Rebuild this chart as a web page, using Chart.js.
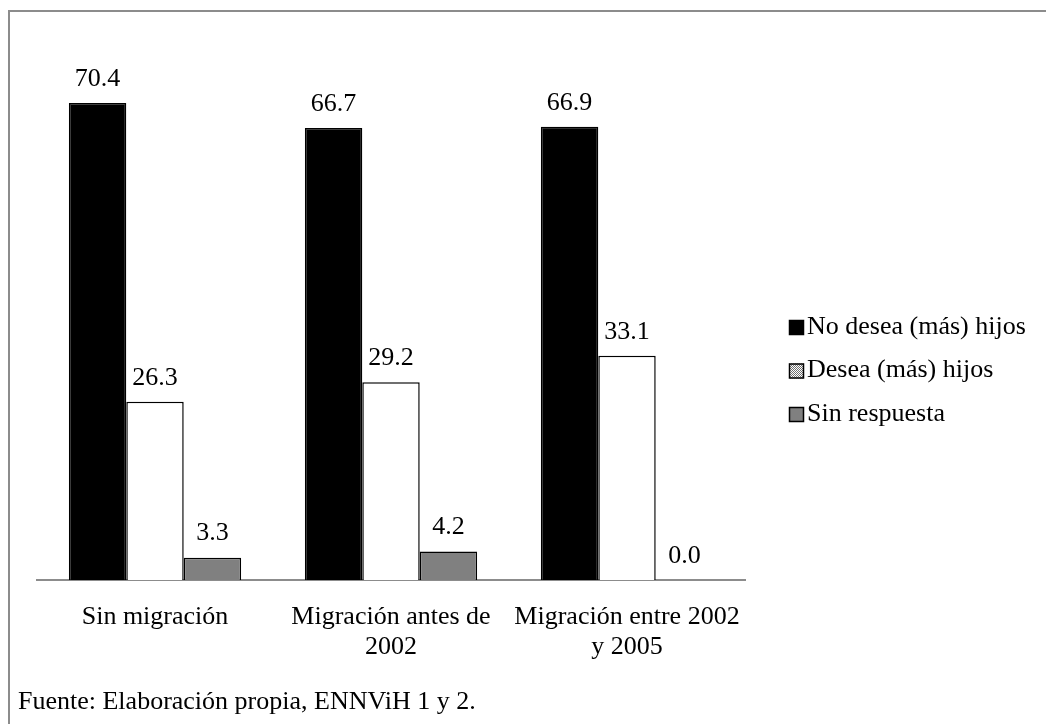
<!DOCTYPE html>
<html>
<head>
<meta charset="utf-8">
<script src="https://cdn.jsdelivr.net/npm/chart.js@4/dist/chart.umd.min.js"></script>
<style>
  html, body { margin: 0; padding: 0; background: #fff; }
  #wrap { position: relative; width: 1046px; height: 724px; }
  #frame { position: absolute; left: 8px; top: 10px; right: 0; bottom: -10px;
           border-left: 2px solid #8c8c8c; border-top: 2px solid #8c8c8c; }
  canvas { position: absolute; left: 0; top: 0; }
</style>
</head>
<body>
<div id="wrap">
  <div id="frame"></div>
  <canvas id="chart" width="1046" height="724"></canvas>
</div>
<script>
var categories = ['Sin migración', ['Migración antes de', '2002'], ['Migración entre 2002', 'y 2005']];
var noDesea = [70.4, 66.7, 66.9];
var desea = [26.3, 29.2, 33.1];
var sinRespuesta = [3.3, 4.2, 0.0];
var seriesNames = ['No desea (más) hijos', 'Desea (más) hijos', 'Sin respuesta'];
var nota = 'Fuente: Elaboración propia, ENNViH 1 y 2.';

var serif = '"Liberation Serif", "Times New Roman", serif';
var fontPx = 26;

// small checkered swatch used in the legend for the second series
function checkerPattern() {
  var c = document.createElement('canvas');
  c.width = 2; c.height = 2;
  var g = c.getContext('2d');
  g.fillStyle = '#ffffff'; g.fillRect(0, 0, 2, 2);
  g.fillStyle = '#707070'; g.fillRect(0, 0, 1, 1); g.fillRect(1, 1, 1, 1);
  return g.createPattern(c, 'repeat');
}

var valueLabels = {
  id: 'valueLabels',
  afterDatasetsDraw: function(chart) {
    var ctx = chart.ctx;
    ctx.save();
    ctx.font = fontPx + 'px ' + serif;
    ctx.fillStyle = '#000';
    ctx.textAlign = 'center';
    ctx.textBaseline = 'middle';
    chart.data.datasets.forEach(function(ds, i) {
      chart.getDatasetMeta(i).data.forEach(function(bar, j) {
        ctx.fillText(ds.data[j].toFixed(1), bar.x, bar.y - 24);
      });
    });
    ctx.restore();
  }
};

var sideLegend = {
  id: 'sideLegend',
  afterDraw: function(chart) {
    var ctx = chart.ctx;
    var swatches = ['#000000', checkerPattern(), '#808080'];
    ctx.save();
    ctx.font = fontPx + 'px ' + serif;
    ctx.textBaseline = 'middle';
    chart.data.datasets.forEach(function(ds, i) {
      var y = 327 + i * 43.5;
      ctx.fillStyle = swatches[i];
      ctx.fillRect(789, y - 7, 15, 15);
      ctx.strokeStyle = '#000';
      ctx.lineWidth = 1.5;
      ctx.strokeRect(789.5, y - 6.5, 14, 14);
      ctx.fillStyle = '#000';
      ctx.fillText(ds.label, 807, y);
    });
    ctx.fillText(nota, 18, 702);
    ctx.restore();
  }
};

new Chart(document.getElementById('chart'), {
  type: 'bar',
  data: {
    labels: categories,
    datasets: [
      { label: seriesNames[0], data: noDesea, backgroundColor: '#000000', borderColor: '#000000', borderWidth: 1.5 },
      { label: seriesNames[1], data: desea, backgroundColor: '#ffffff', borderColor: '#000000', borderWidth: 1.5 },
      { label: seriesNames[2], data: sinRespuesta, backgroundColor: '#808080', borderColor: '#000000', borderWidth: 1.5 }
    ]
  },
  options: {
    responsive: false,
    animation: false,
    layout: { padding: { left: 37, right: 301, top: 38, bottom: 44 } },
    datasets: { bar: { categoryPercentage: 0.73, barPercentage: 1.0 } },
    plugins: { legend: { display: false }, tooltip: { enabled: false } },
    scales: {
      x: {
        grid: { display: false, drawTicks: false },
        border: { display: true, color: '#8c8c8c', width: 2 },
        ticks: { color: '#000', padding: 22, font: { family: serif, size: fontPx, lineHeight: 1.15 }, maxRotation: 0, autoSkip: false },
        afterFit: function(s) { s.height = 100; }
      },
      y: { display: false, min: 0, max: 80 }
    }
  },
  plugins: [valueLabels, sideLegend]
});
</script>
</body>
</html>
